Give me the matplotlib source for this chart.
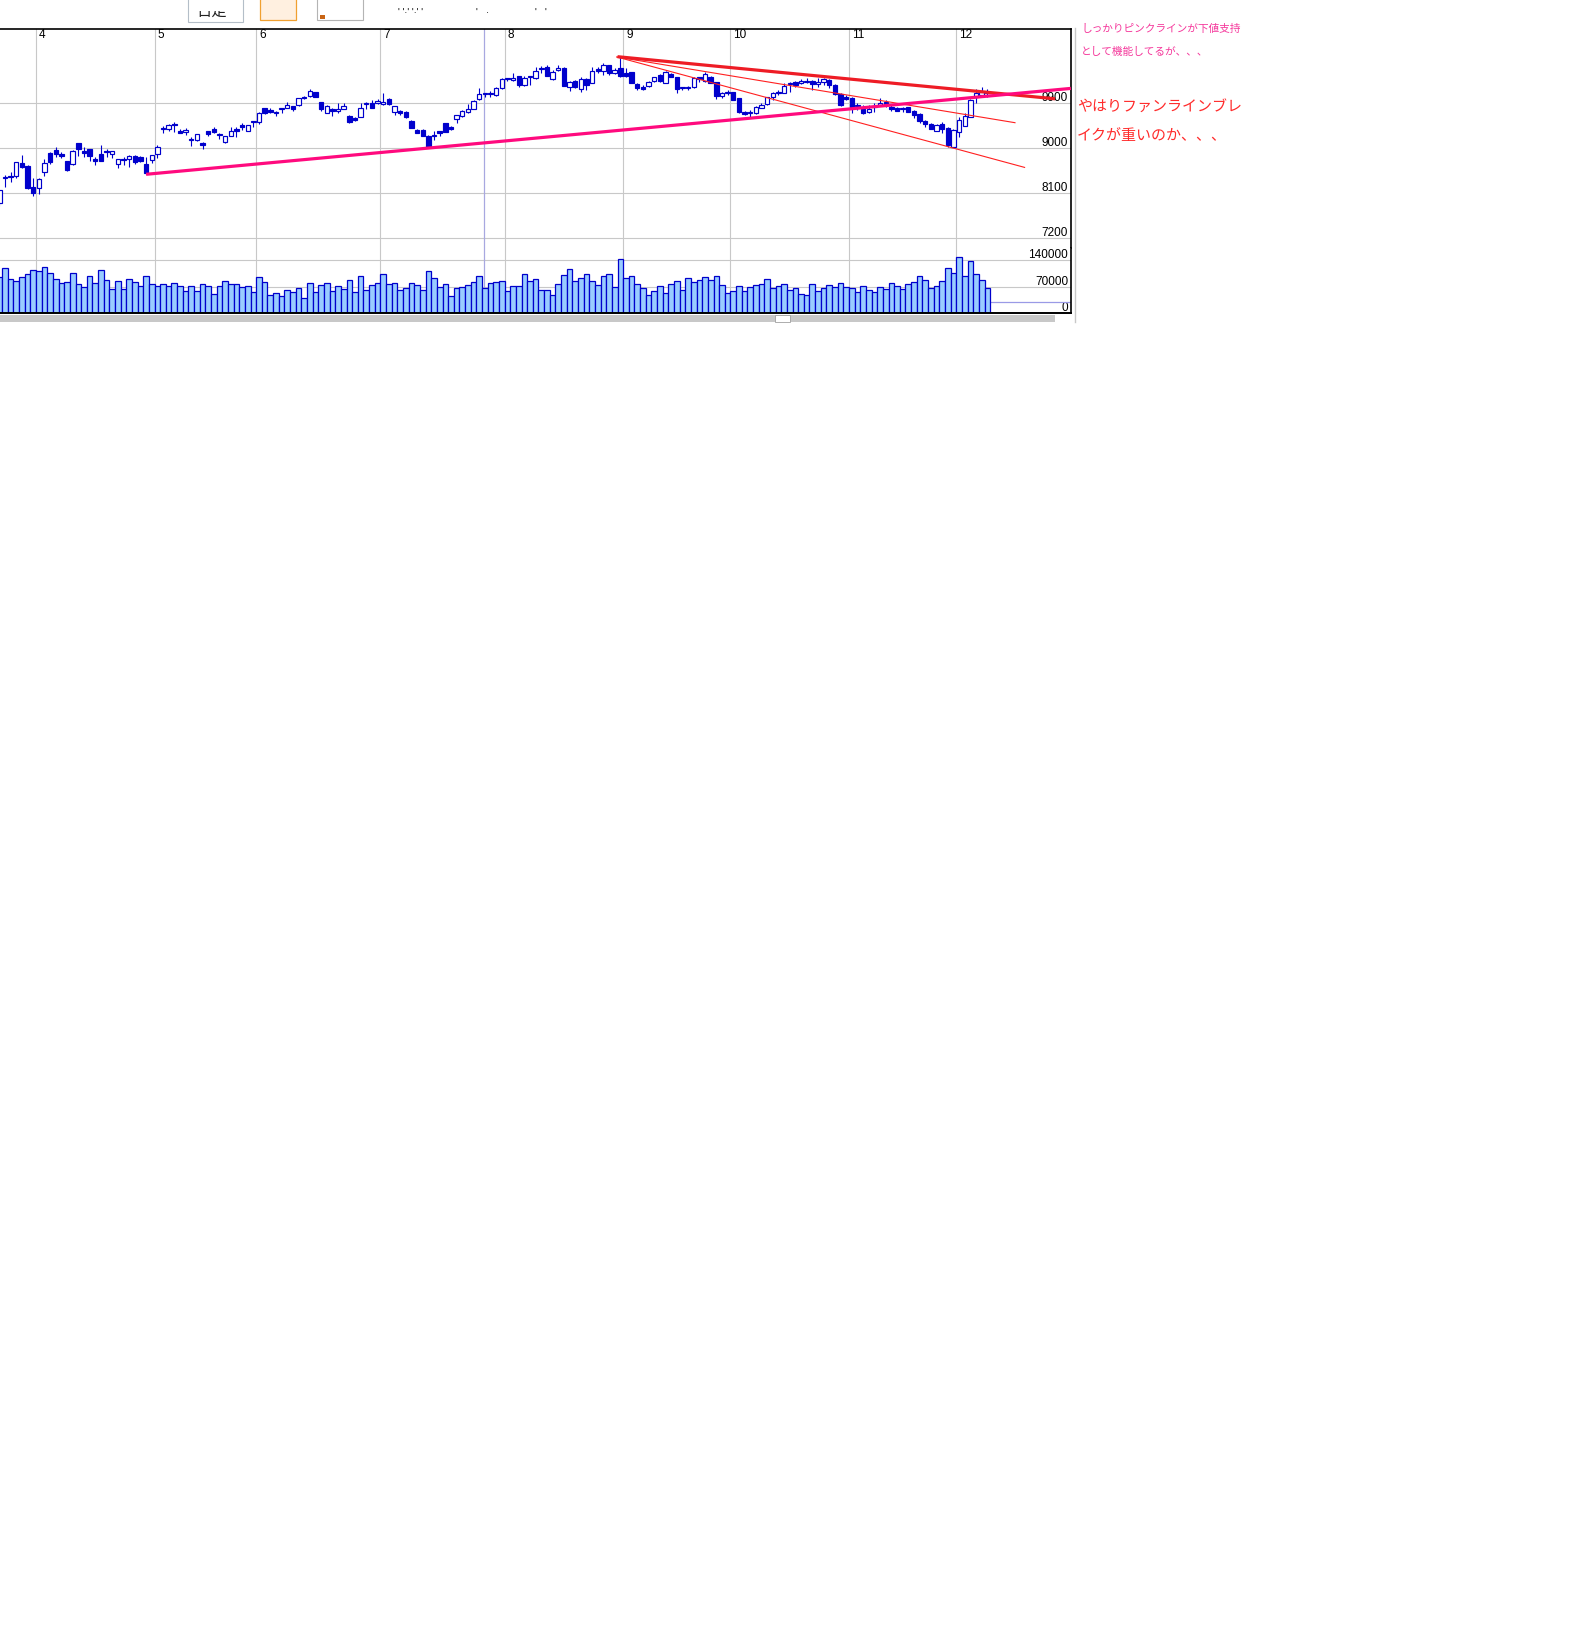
import numpy as np
import matplotlib.pyplot as plt
from matplotlib.patches import Rectangle
from matplotlib.lines import Line2D

# daily candles, late March - early December
opens = [7900, 8410, 8450, 8453, 8700, 8646, 8219, 8199, 8533, 8899,
         8966, 8886, 8739, 8679, 9099, 8946, 8986, 8786, 8879, 8946,
         8893, 8693, 8786, 8793, 8846, 8833, 8686, 8766, 8879, 9380,
         9393, 9486, 9346, 9319, 9160, 9159, 9106, 9339, 9386, 9275,
         9119, 9253, 9386, 9466, 9353, 9520, 9519, 9806, 9766, 9715,
         9780, 9813, 9846, 9866, 10033, 10046, 10126, 9919, 9713, 9786,
         9753, 9793, 9646, 9613, 9633, 9886, 9913, 9899, 9879, 9979,
         9733, 9746, 9726, 9546, 9366, 9366, 9246, 9246, 9346, 9499,
         9419, 9579, 9646, 9719, 9793, 9979, 10079, 10086, 10059, 10199,
         10379, 10366, 10439, 10259, 10430, 10399, 10595, 10619, 10379, 10559,
         10599, 10233, 10353, 10179, 10386, 10313, 10579, 10553, 10666, 10513,
         10600, 10499, 10519, 10286, 10233, 10246, 10339, 10459, 10313, 10493,
         10419, 10210, 10213, 10219, 10419, 10353, 10433, 10319, 10046, 10099,
         10119, 10000, 9733, 9699, 9699, 9813, 9886, 10019, 10133, 10113,
         10283, 10326, 10299, 10333, 10353, 10286, 10326, 10366, 10273, 10079,
         10033, 10000, 9846, 9779, 9726, 9826, 9859, 9919, 9833, 9799,
         9786, 9819, 9753, 9686, 9553, 9486, 9353, 9486, 9399, 9033,
         9333, 9453, 9633, 10033, 10066, 10113]
highs = [8170, 8466, 8533, 8730, 8866, 8666, 8413, 8413, 8786, 8933,
         9019, 8926, 8750, 8966, 9105, 9033, 8990, 8819, 9059, 8986,
         8945, 8790, 8833, 8866, 8866, 8840, 8833, 8870, 9066, 9446,
         9486, 9533, 9393, 9400, 9219, 9285, 9126, 9346, 9433, 9313,
         9250, 9419, 9419, 9513, 9470, 9535, 9720, 9810, 9799, 9746,
         9790, 9919, 9850, 10005, 10046, 10186, 10130, 9925, 9866, 9799,
         9899, 9913, 9666, 9633, 9899, 9933, 9966, 9979, 10099, 9999,
         9850, 9766, 9746, 9566, 9386, 9386, 9266, 9346, 9350, 9513,
         9446, 9665, 9766, 9886, 9966, 10199, 10113, 10153, 10219, 10399,
         10406, 10499, 10446, 10446, 10453, 10633, 10646, 10666, 10566, 10666,
         10619, 10346, 10360, 10419, 10399, 10633, 10633, 10699, 10670, 10599,
         10833, 10599, 10533, 10299, 10266, 10346, 10433, 10486, 10553, 10513,
         10433, 10233, 10253, 10419, 10433, 10533, 10446, 10333, 10133, 10166,
         10133, 10013, 9746, 9766, 9846, 9899, 10033, 10133, 10166, 10299,
         10333, 10346, 10379, 10399, 10366, 10399, 10400, 10379, 10286, 10099,
         10066, 10033, 9899, 9866, 9866, 9899, 9999, 9966, 9880, 9820,
         9826, 9833, 9766, 9699, 9566, 9499, 9486, 9520, 9420, 9380,
         9633, 9700, 9980, 10180, 10219, 10179]
lows = [7850, 8233, 8333, 8400, 8600, 8190, 8053, 8086, 8453, 8693,
        8819, 8799, 8546, 8666, 8853, 8833, 8746, 8666, 8740, 8833,
        8813, 8606, 8666, 8633, 8686, 8720, 8480, 8699, 8799, 9299,
        9346, 9333, 9299, 9266, 9053, 9150, 8993, 9246, 9299, 9179,
        9113, 9250, 9219, 9366, 9350, 9433, 9486, 9686, 9699, 9653,
        9699, 9810, 9753, 9846, 9979, 10033, 10030, 9753, 9699, 9653,
        9699, 9790, 9513, 9546, 9630, 9786, 9799, 9893, 9866, 9866,
        9666, 9666, 9613, 9410, 9299, 9250, 9030, 9166, 9246, 9330,
        9370, 9499, 9633, 9715, 9779, 9966, 10033, 10033, 10055, 10195,
        10353, 10353, 10233, 10255, 10266, 10395, 10513, 10450, 10366, 10555,
        10250, 10153, 10215, 10133, 10166, 10299, 10499, 10466, 10466, 10486,
        10420, 10433, 10310, 10166, 10166, 10233, 10326, 10333, 10310, 10419,
        10113, 10166, 10173, 10213, 10333, 10333, 10299, 9979, 10013, 10066,
        9960, 9699, 9666, 9633, 9695, 9799, 9866, 9966, 10066, 10110,
        10133, 10233, 10279, 10299, 10166, 10233, 10266, 10199, 10066, 9846,
        9966, 9713, 9766, 9686, 9699, 9733, 9846, 9833, 9753, 9740,
        9733, 9720, 9600, 9500, 9420, 9380, 9340, 9313, 9030, 9030,
        9220, 9440, 9620, 9900, 10033, 10033]
closes = [8166, 8420, 8420, 8719, 8633, 8199, 8113, 8379, 8699, 8733,
          8886, 8846, 8566, 8946, 8979, 8899, 8853, 8739, 8746, 8919,
          8939, 8786, 8773, 8839, 8733, 8753, 8513, 8866, 9033, 9390,
          9459, 9459, 9313, 9366, 9170, 9279, 9073, 9286, 9333, 9283,
          9246, 9346, 9339, 9419, 9466, 9530, 9713, 9699, 9726, 9722,
          9786, 9859, 9780, 9999, 9999, 10139, 10033, 9779, 9846, 9739,
          9780, 9846, 9533, 9566, 9799, 9899, 9813, 9946, 9933, 9886,
          9846, 9699, 9633, 9413, 9313, 9253, 9033, 9259, 9299, 9333,
          9379, 9659, 9739, 9779, 9939, 10086, 10086, 10113, 10199, 10379,
          10386, 10413, 10259, 10413, 10436, 10553, 10603, 10453, 10533, 10599,
          10253, 10319, 10219, 10379, 10266, 10553, 10539, 10666, 10513, 10566,
          10446, 10446, 10313, 10199, 10186, 10326, 10419, 10353, 10519, 10433,
          10179, 10216, 10219, 10413, 10379, 10479, 10313, 10046, 10113, 10133,
          9966, 9733, 9679, 9706, 9819, 9866, 10019, 10113, 10099, 10246,
          10290, 10273, 10346, 10340, 10279, 10333, 10393, 10259, 10079, 9866,
          9986, 9833, 9853, 9699, 9779, 9833, 9899, 9879, 9779, 9753,
          9799, 9733, 9666, 9553, 9486, 9386, 9466, 9386, 9066, 9366,
          9566, 9646, 9966, 10113, 10133, 10119]
volumes = [94000, 117500, 90600, 83600, 94000, 101900, 112300, 109700, 120200, 104500,
           88800, 78400, 81000, 104500, 75800, 67900, 96700, 78400, 112300, 86200,
           62700, 83600, 62700, 88800, 81000, 70500, 96700, 75800, 70500, 75800,
           70500, 78400, 70500, 57500, 70500, 57500, 75800, 70500, 49700, 70500,
           83600, 75800, 75800, 67900, 70500, 54900, 94000, 81000, 47000, 52300,
           44400, 60100, 54900, 65300, 39200, 78400, 54900, 73200, 78400, 57500,
           70500, 62700, 86200, 54900, 96700, 60100, 73200, 78400, 101900, 75800,
           78400, 60100, 65300, 78400, 73200, 60100, 109700, 91400, 67900, 75800,
           44400, 65300, 67900, 73200, 81000, 96700, 65300, 78400, 81000, 83600,
           57500, 70500, 70500, 101900, 83600, 88800, 60100, 60100, 47000, 75800,
           99300, 114900, 83600, 91400, 101900, 83600, 73200, 96700, 101900, 67900,
           141100, 91400, 96700, 75800, 65300, 47000, 57500, 70500, 52300, 75800,
           83600, 60100, 91400, 81000, 86200, 94000, 86200, 96700, 73200, 52300,
           57500, 70500, 57500, 67900, 73200, 75800, 88800, 65300, 70500, 75800,
           60100, 65300, 49700, 47000, 75800, 57500, 65300, 73200, 67900, 78400,
           67900, 65300, 54900, 70500, 60100, 54900, 67900, 62700, 78400, 70500,
           62700, 75800, 81000, 96700, 86200, 65300, 70500, 83600, 117500, 104500,
           146300, 96700, 135800, 101900, 86200, 65300]

# first bar of each month and its label
month_starts = [7, 28, 46, 68, 90, 111, 130, 151, 170]
month_labels = ["4", "5", "6", "7", "8", "9", "10", "11", "12"]
price_ticks = [9900, 9000, 8100, 7200]
vol_ticks = [140000, 70000, 0]
cursor_pos = 85.9
vol_marker = 28700

# hand drawn trend lines (bar index, price)
pink_x, pink_y = [26, 189.8], [8480, 10198]
red_x, red_y = [109.5, 187.0], [10832, 9990]
fan1_x, fan1_y = [109.4, 179.9], [10826, 9512]
fan2_x, fan2_y = [109.4, 181.6], [10826, 8618]

W, H, DPI = 1572, 1652, 100
BLUE = "#0000cc"
GRID = "#c8c8c8"
NUM_FONT = ["Liberation Sans Narrow", "Liberation Sans", "DejaVu Sans"]
JP_FONT = ["Noto Sans CJK JP", "DejaVu Sans"]

fig = plt.figure(figsize=(W / DPI, H / DPI), dpi=DPI)


def px_axes(x0, y0, x1, y1):
    return fig.add_axes([x0 / W, 1 - y1 / H, (x1 - x0) / W, (y1 - y0) / H])


ax = px_axes(0, 29, 1071, 248)
axv = px_axes(0, 248, 1071, 313.3)

idx = np.arange(len(opens))
o = np.array(opens, float)
h = np.array(highs, float)
l = np.array(lows, float)
c = np.array(closes, float)
v = np.array(volumes, float)

xlim = (0.124, 189.82)
for a in (ax, axv):
    a.set_xlim(*xlim)
    a.set_xticks([])
    a.set_yticks([])
    a.set_facecolor("white")
    for s in a.spines.values():
        s.set_visible(False)
    for m in month_starts:
        a.axvline(m - 0.5, color=GRID, lw=0.8, zorder=0)
    a.axvline(cursor_pos, color="#a8a8e0", lw=0.9, zorder=0.5)
    a.spines["right"].set_visible(True)
    a.spines["right"].set_color("black")
    a.spines["right"].set_linewidth(1.2)

ax.spines["top"].set_visible(True)
ax.spines["top"].set_color("black")
ax.spines["top"].set_linewidth(1.2)
axv.spines["bottom"].set_visible(True)
axv.spines["bottom"].set_color("black")
axv.spines["bottom"].set_linewidth(1.4)

ax.set_ylim(7006, 11386)
axv.set_ylim(0, 170560)

for p in price_ticks:
    ax.axhline(p, color=GRID, lw=0.8, zorder=0)
    ax.annotate(str(p), xy=(1, p), xycoords=("axes fraction", "data"),
                xytext=(-3, 2), textcoords="offset pixels", ha="right", va="baseline",
                fontsize=8.5, family=NUM_FONT, zorder=1)
for t in vol_ticks[:-1]:
    axv.axhline(t, color=GRID, lw=0.8, zorder=0)
for t in vol_ticks:
    axv.annotate(str(t), xy=(1, t), xycoords=("axes fraction", "data"),
                 xytext=(-3, 2), textcoords="offset pixels", ha="right", va="baseline",
                 fontsize=8.5, family=NUM_FONT, zorder=1)

for m, lab in zip(month_starts, month_labels):
    ax.annotate(lab, xy=(m - 0.5, 1), xycoords=("data", "axes fraction"),
                xytext=(3, 0), textcoords="offset pixels", ha="left", va="top",
                fontsize=8.5, family=NUM_FONT)

# candles
ax.vlines(idx, l, h, color=BLUE, lw=0.8, zorder=2)
down = c < o
body_lo = np.minimum(o, c)
body_h = np.maximum(np.abs(c - o), 18)
face = np.where(down, BLUE, "white")
ax.bar(idx, body_h, bottom=body_lo, width=0.78, color=face, edgecolor=BLUE,
       linewidth=0.85, zorder=3)

# trend lines
ax.plot(fan1_x, fan1_y, color="#ff2020", lw=0.8, zorder=4)
ax.plot(fan2_x, fan2_y, color="#ff2020", lw=0.8, zorder=4)
ax.plot(red_x, red_y, color="#ee1c25", lw=2.3, zorder=5, solid_capstyle="butt")
ax.plot(pink_x, pink_y, color="#ff0a7e", lw=2.3, zorder=6, solid_capstyle="butt")

# volume
axv.bar(idx, v, width=1.0, color="#99ccff", edgecolor=BLUE, linewidth=0.9, zorder=2)
axv.plot([idx[-1] + 0.5, xlim[1]], [vol_marker, vol_marker], color="#9a9ae6", lw=0.9, zorder=1)

# frame bits around the chart
fig.add_artist(Line2D([1075 / W, 1075 / W], [1 - 28 / H, 1 - 322 / H], color="#c8c8c8", lw=1.0))
fig.add_artist(Rectangle((0, 1 - 321.5 / H), 1055 / W, 7 / H, transform=fig.transFigure,
                         facecolor="#c8c8c8", edgecolor="none"))
fig.add_artist(Rectangle((775 / W, 1 - 321.5 / H), 15 / W, 6.5 / H, transform=fig.transFigure,
                         facecolor="white", edgecolor="#a0a0a0", lw=0.6))

# cut-off toolbar at the top
fig.add_artist(Rectangle((188 / W, 1 - 22 / H), 55 / W, 30 / H, transform=fig.transFigure,
                         facecolor="white", edgecolor="#b4bec8", lw=0.8))
clip = Rectangle((188 / W, 1 - 21 / H), 55 / W, 10 / H, transform=fig.transFigure)
t = fig.text(196 / W, 1 - 20 / H, "日足", fontsize=11, family=JP_FONT, va="bottom",
             color="#222222")
t.set_clip_path(clip)
fig.add_artist(Rectangle((260 / W, 1 - 20 / H), 36 / W, 28 / H, transform=fig.transFigure,
                         facecolor="#fff0e0", edgecolor="#f0a030", lw=0.9))
fig.add_artist(Rectangle((317 / W, 1 - 20 / H), 46 / W, 28 / H, transform=fig.transFigure,
                         facecolor="white", edgecolor="#b4b4b4", lw=0.8))
fig.add_artist(Rectangle((320 / W, 1 - 19 / H), 5 / W, 4 / H, transform=fig.transFigure,
                         facecolor="#c86414", edgecolor="none"))
fig.text(398 / W, 1 - 18 / H, "' '·' '·' '", fontsize=7, family=NUM_FONT, va="bottom")
fig.text(476 / W, 1 - 18 / H, "'   ·", fontsize=7, family=NUM_FONT, va="bottom")
fig.text(535 / W, 1 - 18 / H, "'   '", fontsize=7, family=NUM_FONT, va="bottom")

# comments
fig.text(1081 / W, 1 - 29 / H, "しっかりピンクラインが下値支持", fontsize=7.7,
         family=JP_FONT, color="#f5379b", va="center")
fig.text(1081 / W, 1 - 52 / H, "として機能してるが、、、", fontsize=7.7,
         family=JP_FONT, color="#f5379b", va="center")
fig.text(1077 / W, 1 - 107 / H, "やはりファンラインブレ", fontsize=10.8,
         family=JP_FONT, color="#ff2b2b", va="center")
fig.text(1077 / W, 1 - 136 / H, "イクが重いのか、、、", fontsize=10.8,
         family=JP_FONT, color="#ff2b2b", va="center")

fig.savefig("out.png", dpi=DPI, facecolor="white")
